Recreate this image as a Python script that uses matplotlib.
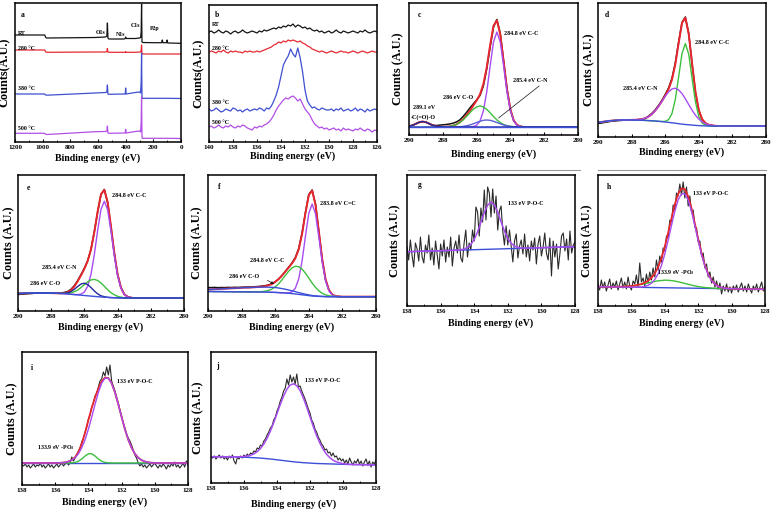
import numpy as np
import matplotlib
matplotlib.use("Agg")
import matplotlib.pyplot as plt
from matplotlib.lines import Line2D

plt.rcParams['font.family'] = ['Liberation Serif', 'DejaVu Serif']
plt.rcParams['font.weight'] = 'bold'
plt.rcParams['mathtext.fontset'] = 'custom'
plt.rcParams['mathtext.rm'] = 'Liberation Serif:bold'
plt.rcParams['mathtext.bf'] = 'Liberation Serif:bold'
plt.rcParams['mathtext.default'] = 'bf'

# ---------------- data (counts, arbitrary units) ----------------
# (a) survey spectra
survey_be = [1200, 985, 978, 970, 620, 545, 536, 532, 528, 522, 412, 403, 400, 397,
             330, 300, 292, 288, 285, 282, 276, 200, 140, 135, 131, 105, 100, 96, 0]
survey_rt = [107, 107, 104.5, 104, 104.5, 105, 106, 119, 104, 103, 103, 103.5, 105, 103.5,
             103.5, 104, 104.5, 110, 138, 100, 99.5, 99.3, 99.3, 102, 99.3, 99.3, 102, 99, 98.7]
survey_280 = [92, 92, 90, 89.7, 90, 90, 90.5, 93.5, 90, 89.7, 89.7, 89.7, 90.5, 89.7,
              89.7, 90, 90, 92, 97, 88.5, 88, 88, 88, 88, 88, 88, 88, 88, 88]
survey_380 = [48, 48, 47, 46.8, 49, 49.5, 50, 57, 48, 47.7, 48, 48, 54, 48,
              49.5, 50, 49, 60, 89, 44, 43.7, 43.7, 43.7, 43.7, 43.7, 43.7, 43.7, 43.7, 43.5]
survey_500 = [8.7, 8.7, 7.7, 7.5, 10.3, 10.5, 11, 16, 9, 8.7, 9, 9, 12.7, 9,
              10.5, 11, 10, 20, 45, 4, 3.7, 3.7, 3.7, 3.7, 3.7, 3.7, 3.7, 3.7, 3.5]
survey_labels = ['RT', '280 °C', '380 °C', '500 °C']

# (b) P2p at different temperatures, 140 -> 126 eV
p2p_rt = [110, 111, 109, 110, 112, 110, 109, 111, 110, 108,
          110, 111, 109, 110, 112, 110, 109, 110, 111, 110,
          109, 111, 110, 112, 111, 112, 113, 114, 113, 115,
          114, 116, 115, 117, 116, 118, 115, 117, 116, 114,
          115, 113, 114, 112, 111, 112, 110, 111, 109, 110,
          111, 109, 110, 112, 110, 109, 111, 110, 109, 110,
          111, 110, 109, 111, 110, 112, 110, 109, 110, 111, 110]
p2p_280 = [90, 91, 90, 89, 91, 90, 92, 90, 89, 91,
           90, 91, 90, 90, 89, 91, 90, 91, 90, 90,
           91, 90, 91, 92, 93, 94, 95, 97, 98, 100,
           99, 101, 100, 102, 101, 102, 101, 100, 101, 99,
           98, 96, 95, 93, 92, 91, 90, 91, 90, 89,
           90, 91, 90, 89, 90, 91, 90, 90, 89, 90,
           91, 90, 89, 90, 91, 90, 89, 90, 91, 90, 90]
p2p_380 = [33, 31, 32, 34, 32, 30, 31, 33, 32, 31,
           34, 33, 31, 32, 30, 32, 33, 31, 32, 33,
           32, 34, 33, 31, 34, 33, 36, 41, 47, 55,
           66, 77, 82, 86, 93, 88, 85, 94, 84, 70,
           52, 41, 37, 34, 35, 33, 32, 34, 33, 32,
           32, 33, 31, 33, 32, 34, 31, 32, 33, 31,
           32, 34, 31, 33, 32, 30, 33, 31, 32, 33, 32]
p2p_500 = [15, 16, 14, 15, 17, 15, 14, 16, 15, 17,
           15, 14, 16, 15, 17, 16, 14, 13, 12, 15,
           14, 16, 15, 17, 18, 20, 23, 27, 32, 36,
           39, 42, 44, 43, 45, 46, 44, 41, 43, 38,
           33, 30, 27, 22, 18, 16, 14, 15, 13, 14,
           12, 13, 14, 12, 13, 11, 14, 12, 13, 12,
           11, 13, 12, 14, 12, 11, 13, 12, 10, 12, 11]

# (c) C1s, 290 -> 282 eV every 0.2 eV, plus 280 eV
c_raw = [9.0, 9.8, 11.0, 12.5, 13.2, 12.9, 11.5, 10.0, 9.5, 9.8, 10.2, 10.5, 11.0, 11.8,
         13.0, 15.0, 18.5, 22.5, 27.0, 31.0, 35.0, 39.5, 49.0, 66.0, 88.0, 108.0, 115.5,
         101.5, 74.0, 46.0, 25.5, 14.0, 10.0, 8.6, 8.2, 8.0, 8.3, 7.9, 8.1, 8.0, 8.2, 8.0]
c_fit = [8.6, 9.6, 11.2, 12.8, 13.5, 12.8, 11.2, 9.6, 8.6, 8.2, 8.1, 8.3, 8.6, 9.3,
         10.6, 12.7, 15.7, 19.7, 24.2, 29.3, 34.4, 40.6, 50.9, 67.7, 89.8, 109.2, 114.6,
         100.6, 73.4, 45.5, 25.3, 14.5, 10.0, 8.4] + [8.0] * 8
c_cc = [8.0] * 19 + [8.4, 9.8, 13.9, 24.1, 43.0, 68.9, 93.0, 103.0, 93.0, 68.9, 43.0,
                     24.1, 13.9, 9.8, 8.4] + [8.0] * 8
c_co = [8.0] * 10 + [8.1, 8.3, 8.6, 9.3, 10.5, 12.4, 15.1, 18.5, 22.2, 25.7, 28.1, 29.0,
                     28.1, 25.7, 22.2, 18.5, 15.1, 12.4, 10.5, 9.3, 8.6, 8.3, 8.1] + [8.0] * 9
c_cn = [8.0] * 14 + [8.1, 8.3, 8.6, 9.2, 10.0, 11.2, 12.5, 13.7, 14.7, 15.0, 14.7, 13.7,
                     12.5, 11.2, 10.0, 9.2, 8.6, 8.3, 8.1] + [8.0] * 9
c_coo = [8.6, 9.6, 11.2, 12.8, 13.5, 12.8, 11.2, 9.6, 8.6, 8.2] + [8.0] * 32
c_bg = [7.7, 7.7]

# (d)
d_raw = [13.5, 14.0, 14.6, 15.2, 15.8, 16.0, 16.5, 16.6, 16.9, 16.8, 17.0, 16.8, 17.5, 17.5,
         18.4, 20.8, 23.5, 27.0, 31.5, 36.5, 42.5, 49.0, 58.5, 74.0, 95.0, 114.5, 120.0,
         103.5, 73.0, 44.5, 26.5, 17.5, 13.5, 12.0, 11.4, 11.0, 11.2, 10.9, 11.1, 11.0, 10.9, 11.0]
d_fit = [14.5, 15.0, 15.5, 16.0, 16.3, 16.6, 16.8, 17.0, 17.0, 17.0, 17.1, 17.2, 17.4, 17.8,
         18.8, 20.3, 22.7, 26.2, 30.6, 35.7, 41.3, 47.8, 57.1, 72.4, 93.9, 114.0, 119.2,
         103.0, 73.6, 45.4, 27.0, 17.8, 13.9, 12.2, 11.6, 11.2] + [11.0] * 6
d_cc = [14.5, 15.0, 15.5, 16.0, 16.3, 16.6, 16.8, 17.0, 17.0, 17.0, 17.0, 16.9, 16.8, 16.7,
        16.6, 16.4, 16.2, 16.0, 15.7, 15.5, 15.6, 17.3, 23.3, 37.4, 60.1, 83.5, 93.5,
        82.8, 58.7, 35.2, 20.5, 13.9, 11.7, 11.1] + [11.0] * 8
d_cn = [14.5, 15.0, 15.5, 16.0, 16.3, 16.6, 16.8, 17.0, 17.0, 17.0, 17.1, 17.2, 17.4, 17.8,
        18.8, 20.3, 22.7, 26.2, 30.6, 35.6, 40.7, 45.1, 48.0, 48.8, 47.1, 43.4, 38.2,
        32.4, 26.8, 21.8, 17.9, 15.1, 13.3, 12.1, 11.6, 11.2] + [11.0] * 6
d_bg = [14.5, 15.0, 15.5, 16.0, 16.3, 16.6, 16.8, 17.0, 17.0, 17.0, 17.0, 16.9, 16.8, 16.7,
        16.6, 16.4, 16.2, 16.0, 15.7, 15.4, 15.0, 14.6, 14.2, 13.8, 13.3, 12.9, 12.5,
        12.2, 11.9, 11.6, 11.4, 11.2, 11.1, 11.0] + [11.0] * 8

# (e)
e_raw = [15.5, 15.8, 16.0, 16.3, 16.5, 16.8, 17.0, 16.9, 17.1, 17.0, 17.1, 17.0, 16.9, 17.0,
         17.6, 18.5, 20.8, 24.5, 29.5, 35.5, 41.8, 49.5, 61.0, 78.5, 98.0, 115.5, 120.5,
         107.0, 82.5, 56.5, 35.5, 22.5, 15.8, 13.3, 12.4, 12.0, 12.1, 11.9, 12.0, 12.1, 12.0, 12.0]
e_fit = [16.5, 16.6, 16.7, 16.8, 16.9, 17.0, 17.0, 17.0, 17.0, 17.0, 16.9, 16.8, 16.7,
         16.7, 17.1, 17.9, 20.0, 23.7, 28.8, 34.8, 41.2, 49.1, 60.7, 78.1, 98.8, 115.8,
         120.2, 108.0, 83.8, 57.3, 35.8, 22.5, 15.8, 13.2, 12.3, 12.0] + [12.0] * 6
e_cc = [16.5, 16.6, 16.7, 16.8, 16.9, 17.0, 17.0, 17.0, 17.0, 17.0, 16.9, 16.8, 16.7,
        16.5, 16.3, 16.0, 15.7, 15.5, 15.4, 15.9, 18.0, 23.9, 36.0, 55.7, 79.8, 100.6,
        108.8, 100.2, 78.9, 54.4, 34.3, 21.8, 15.5, 13.1, 12.3, 12.1] + [12.0] * 6
e_cn = [16.5, 16.6, 16.7, 16.8, 16.9, 17.0, 17.0, 17.0, 17.0, 17.0, 16.9, 16.8, 16.7,
        16.6, 16.6, 16.7, 17.2, 18.3, 20.0, 22.5, 25.4, 28.2, 30.1, 30.6, 29.5, 27.0,
        23.7, 20.3, 17.3, 15.2, 13.7, 12.8, 12.3, 12.1] + [12.0] * 8
e_co = [16.5, 16.6, 16.7, 16.8, 16.9, 17.0, 17.0, 17.0, 17.0, 17.0, 16.9, 16.8, 16.7,
        16.6, 16.8, 17.2, 18.5, 20.8, 23.6, 26.0, 26.8, 25.4, 22.4, 19.0, 16.1, 14.2,
        13.3, 12.7, 12.4, 12.3, 12.2, 12.1] + [12.0] * 10
e_bg = [16.5, 16.6, 16.7, 16.8, 16.9, 17.0, 17.0, 17.0, 17.0, 17.0, 16.9, 16.8, 16.7,
        16.5, 16.3, 16.0, 15.7, 15.4, 15.1, 14.8, 14.5, 14.2, 13.9, 13.6, 13.3, 13.0,
        12.8, 12.6, 12.4, 12.3, 12.2, 12.1] + [12.0] * 10

# (f)
f_raw = [19.5, 19.4, 19.6, 19.3, 19.5, 19.4, 19.6, 19.5, 19.7, 19.6, 19.8, 19.9, 20.0, 20.1,
         20.3, 20.5, 20.9, 21.3, 22.0, 23.3, 25.3, 28.0, 31.5, 35.5, 39.8, 44.0, 49.5,
         58.5, 74.0, 94.5, 112.5, 117.0, 102.5, 75.0, 47.0, 27.0, 16.8, 12.2, 10.8, 10.4, 10.3, 10.3]
f_fit = [17.5, 17.7, 17.8, 18.0, 18.2, 18.3, 18.5, 18.7, 18.8, 19.0, 19.2, 19.4, 19.4, 19.6,
         19.8, 20.0, 20.3, 20.8, 21.6, 22.9, 25.0, 27.8, 31.3, 35.4, 39.4, 43.6, 48.8,
         57.6, 73.2, 93.8, 111.9, 116.4, 102.2, 75.3, 47.7, 27.7, 17.0, 12.4, 10.9, 10.5, 10.3, 10.3]
f_cc2 = [15.5, 15.5, 15.4, 15.4, 15.4, 15.3, 15.3, 15.3, 15.2, 15.2, 15.2, 15.2, 15.1, 15.1,
         15.1, 15.0, 15.0, 14.9, 14.8, 14.7, 14.6, 14.4, 14.2, 14.1, 14.1, 15.1, 18.8,
         28.1, 46.1, 70.8, 93.7, 103.0, 93.1, 69.6, 44.4, 25.9, 16.1, 12.0, 10.7, 10.4, 10.3, 10.3]
f_cc = [15.5, 15.5, 15.4, 15.4, 15.4, 15.3, 15.3, 15.3, 15.2, 15.2, 15.2, 15.2, 15.1, 15.1,
        15.2, 15.2, 15.4, 15.8, 16.6, 17.9, 20.1, 23.2, 27.1, 31.5, 35.7, 39.1, 40.7,
        40.3, 37.9, 33.8, 28.9, 23.9, 19.6, 16.1, 13.7, 12.2, 11.2, 10.7, 10.5, 10.4, 10.3, 10.3]
f_co = [17.5, 17.7, 17.8, 18.0, 18.2, 18.3, 18.5, 18.7, 18.8, 19.0, 19.2, 19.4, 19.4, 19.6,
        19.7, 19.8, 19.9, 19.9, 19.8, 19.7, 19.5, 19.0, 18.4, 17.8, 17.0, 16.2, 15.3,
        14.4, 13.6, 12.8, 12.1, 11.5, 11.1, 10.8, 10.6, 10.4, 10.3, 10.3, 10.3, 10.3, 10.3, 10.3]
f_bg = [15.5, 15.5, 15.4, 15.4, 15.4, 15.3, 15.3, 15.3, 15.2, 15.2, 15.2, 15.2, 15.1, 15.1,
        15.1, 15.0, 15.0, 14.9, 14.8, 14.7, 14.6, 14.4, 14.2, 14.0, 13.7, 13.4, 13.0,
        12.6, 12.2, 11.8, 11.4, 11.0, 10.8, 10.6, 10.5, 10.4, 10.3, 10.3, 10.3, 10.3, 10.3, 10.3]

# (g)-(j) P2p, raw every 0.1 eV, fits every 0.2 eV, 138 -> 128 eV
g_raw = [65, 52, 72, 57, 45, 69, 63, 51, 75, 55,
         49, 67, 59, 77, 52, 64, 47, 71, 57, 43,
         68, 56, 72, 50, 65, 55, 75, 46, 64, 71,
         59, 77, 54, 50, 69, 82, 55, 69, 62, 82,
         71, 105, 100, 76, 104, 90, 122, 92, 125, 119,
         95, 123, 99, 116, 82, 101, 106, 81, 67, 86,
         67, 82, 66, 50, 71, 78, 54, 66, 72, 58,
         78, 55, 67, 51, 71, 62, 74, 48, 68, 76,
         56, 65, 79, 59, 52, 74, 36, 71, 55, 68,
         43, 58, 76, 79, 61, 73, 52, 81, 59, 67, 70]
g_poc = [60.3, 60.4, 60.5, 60.6, 60.7, 60.8, 60.9, 61.0, 61.1, 61.2, 61.3, 61.4, 61.5,
         61.6, 61.7, 61.9, 62.2, 63.0, 64.5, 67.5, 72.5, 80.1, 89.7, 99.5, 106.9, 109.8,
         107.1, 99.9, 90.3, 80.9, 73.5, 68.7, 65.9, 64.6, 64.0, 63.9, 63.9, 64.0, 64.1,
         64.2, 64.3, 64.4, 64.5, 64.6, 64.7, 64.8, 64.9, 65.0, 65.1, 65.2, 65.3]
g_bg = [60.3, 65.3]

h_raw = [24, 18, 28, 20, 26, 17, 23, 29, 19, 25,
         21, 27, 18, 24, 30, 20, 26, 19, 31, 22,
         18, 27, 24, 33, 21, 45, 26, 30, 22, 34,
         25, 36, 28, 40, 31, 48, 38, 52, 46, 60,
         57, 72, 70, 88, 86, 103, 98, 115, 112, 124,
         113, 126, 110, 121, 102, 112, 96, 98, 81, 80,
         66, 67, 52, 55, 40, 44, 31, 36, 25, 31,
         21, 27, 19, 25, 14, 22, 17, 24, 16, 21,
         15, 22, 18, 23, 16, 21, 25, 17, 22, 16,
         24, 19, 15, 22, 18, 24, 16, 21, 26, 17, 22]
h_fit = [21.3, 21.3, 21.2, 21.1, 21.1, 21.1, 21.2, 21.3, 21.5, 21.7, 22.0, 22.5, 23.2,
         24.0, 25.3, 27.3, 30.2, 34.5, 41.0, 49.8, 61.5, 75.2, 89.8, 103.6, 114.2, 119.6,
         118.8, 111.6, 99.6, 84.5, 68.9, 54.6, 42.8, 34.0, 27.9, 24.0, 21.7, 20.4, 19.7,
         19.5, 19.3, 19.2, 19.1, 19.1, 19.0, 19.0, 18.9, 18.9, 18.8, 18.8, 18.7]
h_poc = [21.3, 21.3, 21.2, 21.1, 21.1, 21.0, 21.0, 20.9, 20.9, 20.8, 20.8, 20.8, 20.9,
         21.0, 21.6, 22.7, 24.8, 28.4, 34.2, 42.6, 54.0, 67.7, 82.6, 96.8, 108.1, 114.2,
         114.2, 107.9, 96.6, 82.2, 67.2, 53.4, 41.9, 33.4, 27.5, 23.8, 21.6, 20.4, 19.7,
         19.5, 19.3, 19.2, 19.1, 19.1, 19.0, 19.0, 18.9, 18.9, 18.8, 18.8, 18.7]
h_po3 = [21.3, 21.3, 21.2, 21.1, 21.1, 21.1, 21.2, 21.3, 21.5, 21.7, 22.0, 22.4, 23.0,
         23.6, 24.3, 25.1, 25.9, 26.5, 27.2, 27.5, 27.8, 27.7, 27.4, 26.9, 26.2, 25.4,
         24.6, 23.7, 22.9, 22.1, 21.4, 20.9, 20.5, 20.2, 19.9, 19.7, 19.5, 19.4, 19.3,
         19.3, 19.2, 19.2, 19.1, 19.1, 19.0, 19.0, 18.9, 18.9, 18.8, 18.8, 18.7]
h_bg = [21.3, 18.7]

i_raw = [20, 19, 21, 18, 20, 17, 19, 21, 18, 20,
         19, 22, 18, 20, 17, 19, 21, 18, 20, 17,
         19, 21, 18, 20, 22, 19, 21, 23, 20, 22,
         28, 24, 27, 30, 34, 37, 43, 47, 53, 58,
         66, 70, 78, 82, 89, 92, 98, 104, 106, 113,
         109, 118, 110, 120, 104, 99, 94, 88, 82, 75,
         69, 62, 57, 51, 47, 44, 40, 35, 30, 27,
         22, 19, 21, 18, 20, 17, 19, 21, 18, 20,
         22, 19, 17, 20, 18, 21, 19, 16, 20, 18,
         21, 19, 23, 18, 20, 17, 19, 22, 18, 24, 20]
i_fit = [22.0] * 11 + [22.1, 22.3, 22.7, 23.5, 25.1, 27.9, 33.1, 41.2, 52.3, 65.0, 77.1,
                       87.7, 96.5, 103.6, 107.4, 107.0, 101.8, 92.5, 80.7, 67.9, 55.8,
                       45.3, 37.2, 31.3, 27.3, 24.9, 23.5, 22.7, 22.3, 22.1] + [22.0] * 10
i_poc = [22.0] * 11 + [22.1, 22.3, 22.7, 23.5, 24.9, 27.3, 31.3, 37.2, 45.3, 55.8, 67.9,
                       80.7, 92.5, 101.8, 106.8, 106.8, 101.8, 92.5, 80.7, 67.9, 55.8,
                       45.3, 37.2, 31.3, 27.3, 24.9, 23.5, 22.7, 22.3, 22.1] + [22.0] * 10
i_po3 = [22.0] * 15 + [22.2, 22.6, 23.8, 26.0, 29.0, 31.2, 31.2, 29.0, 26.0, 23.8,
                       22.6, 22.2] + [22.0] * 24
i_bg = [22.0, 22.0]

j_raw = [26, 25, 27, 24, 26, 28, 25, 27, 24, 26,
         23, 27, 25, 28, 22, 19, 26, 24, 27, 25,
         28, 26, 29, 27, 30, 29, 32, 31, 35, 34,
         38, 37, 42, 44, 48, 51, 55, 57, 63, 66,
         72, 76, 82, 86, 92, 95, 104, 98, 108, 101,
         106, 99, 109, 96, 97, 92, 88, 84, 79, 74,
         70, 63, 60, 54, 51, 46, 43, 39, 37, 33,
         34, 30, 31, 27, 30, 26, 27, 23, 25, 22,
         24, 20, 23, 19, 25, 21, 18, 22, 20, 24,
         19, 22, 17, 21, 24, 18, 22, 16, 21, 19, 23]
j_poc = [26.3, 26.3, 26.3, 26.3, 26.3, 26.2, 26.2, 26.2, 26.2, 26.3, 26.5, 27.0, 27.8,
         29.1, 31.3, 34.5, 38.9, 44.7, 51.9, 60.3, 69.4, 78.6, 87.0, 93.8, 98.0, 99.2,
         97.3, 92.4, 84.9, 75.9, 66.1, 56.4, 47.4, 39.8, 33.6, 28.8, 25.3, 22.8, 21.2,
         20.1, 19.4, 19.0, 18.7, 18.6, 18.4, 18.4, 18.3, 18.3, 18.2, 18.2, 18.1]
j_bg = [26.3, 26.3, 26.3, 26.3, 26.3, 26.2, 26.2, 26.1, 26.0, 25.9, 25.8, 25.7, 25.5,
        25.3, 25.1, 24.9, 24.6, 24.3, 24.0, 23.6, 23.2, 22.8, 22.4, 22.0, 21.6, 21.2,
        20.9, 20.6, 20.3, 20.1, 19.9, 19.7, 19.5, 19.4, 19.3, 19.2, 19.1, 19.0, 18.9,
        18.8, 18.7, 18.6, 18.5, 18.5, 18.4, 18.4, 18.3, 18.3, 18.2, 18.2, 18.1]

# energy axes
be_b = np.linspace(140, 126, 71)
be_c1s = np.append(np.linspace(290, 282, 41), 280)
be_fit = np.linspace(138, 128, 51)
be_raw = np.linspace(138, 128, 101)
be_ends = [138, 128]

# ---------------- figure ----------------
W, H = 774, 511
K = '#141414'
RED = '#e8262d'
PUR = '#a84cf0'
BLU = '#3c4fd8'
GRN = '#3dbf3d'
NAV = '#26299c'

fig = plt.figure(figsize=(W / 100, H / 100), dpi=100)


def make_ax(box, xlim, xticks, minor, letter, letter_pos, ylab, ylab_x, xlab_y, y0=0):
    left, top, right, bottom = box
    ax = fig.add_axes([left / W, 1 - bottom / H, (right - left) / W, (bottom - top) / H])
    ax.set_xlim(*xlim)
    ax.set_ylim(y0, y0 + bottom - top)
    ax.set_xticks(xticks)
    ax.set_xticks(minor, minor=True)
    ax.set_yticks([])
    ax.tick_params(axis='x', direction='in', length=2, width=0.8, pad=2.5, labelsize=5)
    ax.tick_params(axis='x', which='minor', direction='in', length=1.2, width=0.6)
    for s in ax.spines.values():
        s.set_linewidth(1.1)
    ax.text(letter_pos[0], letter_pos[1], letter, transform=ax.transAxes,
            fontsize=5.5, fontweight='bold', ha='center', va='center')
    fig.text((left + right) / 2 / W, 1 - xlab_y / H, 'Binding energy (eV)',
             ha='center', va='center', fontsize=7.1, fontweight='bold')
    fig.text(ylab_x / W, 1 - (top + bottom) / 2 / H, ylab, rotation=90,
             ha='center', va='center', fontsize=8.8, fontweight='bold')
    return ax


def note(ax, x, y, s, size=4.3):
    ax.text(x, y, s, fontsize=size, fontweight='bold', ha='left', va='center')


c1s_ticks = [290, 288, 286, 284, 282, 280]
c1s_minor = [289, 287, 285, 283, 281]
p2p_ticks = [138, 136, 134, 132, 130, 128]
p2p_minor = [137, 135, 133, 131, 129]

# (a)
ax = make_ax((15, 3, 181, 142), (1200, 0), [1200, 1000, 800, 600, 400, 200, 0],
             [1100, 900, 700, 500, 300, 100],
             'a', (0.045, 0.914), 'Counts(A.U.)', 5, 158)
for ys, col in zip([survey_rt, survey_280, survey_380, survey_500],
                   [K, '#e52a34', '#3f4fd0', '#b24fe6']):
    ax.plot(survey_be, ys, color=col, lw=0.9)
for lab, y in zip(survey_labels, [109, 94, 53, 14]):
    note(ax, 1180, y, lab, 4.2)
note(ax, 614, 110, 'O1s', 4.2)
note(ax, 472, 108, 'N1s', 4.2)
note(ax, 361, 117, 'C1s', 4.2)
note(ax, 224, 114, 'P2p', 4.2)

# (b)
ax = make_ax((209, 5, 377, 142), (140, 126), list(range(140, 125, -2)),
             list(range(139, 126, -2)),
             'b', (0.05, 0.927), 'Counts(A.U.)', 199, 156)
for ys, col in zip([p2p_rt, p2p_280, p2p_380, p2p_500],
                   [K, '#e52a34', '#3f4fd0', '#b24fe6']):
    ax.plot(be_b, ys, color=col, lw=0.9)
for lab, y in zip(survey_labels, [117, 94, 39, 20]):
    note(ax, 139.75, y, lab, 4.2)

# (c)
ax = make_ax((409, 3, 578, 135), (290, 280), c1s_ticks, c1s_minor,
             'c', (0.06, 0.909), 'Counts (A.U.)', 398, 154)
ax.plot(be_c1s, c_raw, color=K, lw=1.1)
ax.plot(be_c1s, c_fit, color=RED, lw=1.4)
ax.plot(be_c1s, c_cc, color=PUR, lw=1.0)
ax.plot(be_c1s, c_co, color=GRN, lw=1.0)
ax.plot(be_c1s, c_cn, color='#5a5fd8', lw=1.0)
ax.plot(be_c1s, c_coo, color=NAV, lw=1.0)
ax.plot([290, 280], c_bg, color=BLU, lw=1.0)
note(ax, 284.4, 102, '284.8 eV C-C')
note(ax, 288.0, 38, '286 eV C-O')
note(ax, 283.85, 55, '285.4 eV C-N')
note(ax, 289.75, 28, '289.1 eV')
note(ax, 289.9, 18, '-C(=O)-O')
ax.plot([282.3, 284.7], [49, 17], color=K, lw=0.5)

# (d)
ax = make_ax((598, 3, 766, 137), (290, 280), c1s_ticks, c1s_minor,
             'd', (0.052, 0.91), 'Counts (A.U.)', 589, 152)
ax.plot(be_c1s, d_raw, color=K, lw=1.1)
ax.plot(be_c1s, d_fit, color=RED, lw=1.4)
ax.plot(be_c1s, d_cc, color=GRN, lw=1.0)
ax.plot(be_c1s, d_cn, color=PUR, lw=1.0)
ax.plot(be_c1s, d_bg, color=BLU, lw=1.0)
note(ax, 284.23, 94, '284.8 eV C-C')
note(ax, 288.5, 48, '285.4 eV C-N')

# (e)
ax = make_ax((18, 175, 184, 311), (290, 280), c1s_ticks, c1s_minor,
             'e', (0.062, 0.901), 'Counts (A.U.)', 9, 327, y0=-1)
ax.plot(be_c1s, e_raw, color=K, lw=1.1)
ax.plot(be_c1s, e_fit, color=RED, lw=1.4)
ax.plot(be_c1s, e_cc, color=PUR, lw=1.0)
ax.plot(be_c1s, e_cn, color=GRN, lw=1.0)
ax.plot(be_c1s, e_co, color=NAV, lw=1.0)
ax.plot(be_c1s, e_bg, color=BLU, lw=1.0)
note(ax, 284.36, 115, '284.8 eV C-C')
note(ax, 288.57, 43, '285.4 eV C-N')
note(ax, 289.28, 27, '286 eV C-O')

# (f)
ax = make_ax((208, 175, 376, 311), (290, 280), c1s_ticks, c1s_minor,
             'f', (0.067, 0.911), 'Counts (A.U.)', 197, 327, y0=-4)
ax.plot(be_c1s, f_raw, color=K, lw=1.1)
ax.plot(be_c1s, f_fit, color=RED, lw=1.4)
ax.plot(be_c1s, f_cc2, color=PUR, lw=1.0)
ax.plot(be_c1s, f_cc, color=GRN, lw=1.0)
ax.plot(be_c1s, f_co, color=BLU, lw=1.0)
ax.plot(be_c1s, f_bg, color=BLU, lw=1.0)
note(ax, 283.35, 104, '283.8 eV C=C')
note(ax, 287.5, 47, '284.8 eV C-C')
note(ax, 288.73, 31, '286 eV C-O')
ax.annotate('', xy=(285.93, 21.5), xytext=(286.6, 28),
            arrowprops=dict(arrowstyle='-|>', color=K, lw=0.5, mutation_scale=4))

# (g)
ax = make_ax((407, 175, 575, 306), (138, 128), p2p_ticks, p2p_minor,
             'g', (0.073, 0.927), 'Counts (A.U.)', 395, 323, y0=6)
ax.plot(be_raw, g_raw, color='#2a2a2a', lw=0.8)
ax.plot(be_ends, g_bg, color=BLU, lw=1.0)
ax.plot(be_fit, g_poc, color=PUR, lw=1.1)
note(ax, 131.97, 109, '133 eV P-O-C')

# (h)
ax = make_ax((598, 175, 765, 306), (138, 128), p2p_ticks, p2p_minor,
             'h', (0.068, 0.912), 'Counts (A.U.)', 587, 323, y0=2)
ax.plot(be_raw, h_raw, color='#2a2a2a', lw=0.8)
ax.plot(be_ends, h_bg, color=BLU, lw=1.0)
ax.plot(be_fit, h_po3, color=GRN, lw=1.0)
ax.plot(be_fit, h_fit, color=RED, lw=1.3)
ax.plot(be_fit, h_poc, color=PUR, lw=1.0)
note(ax, 132.3, 115, '133 eV P-O-C')
note(ax, 134.45, 35, '133.9 eV -PO$_3$')

# (i)
ax = make_ax((22, 352, 188, 485), (138, 128), p2p_ticks, p2p_minor,
             'i', (0.058, 0.877), 'Counts (A.U.)', 12, 502)
ax.plot(be_raw, i_raw, color='#2a2a2a', lw=0.8)
ax.plot(be_ends, i_bg, color=BLU, lw=1.0)
ax.plot(be_fit, i_po3, color=GRN, lw=1.0)
ax.plot(be_fit, i_fit, color=RED, lw=1.3)
ax.plot(be_fit, i_poc, color=PUR, lw=1.0)
note(ax, 132.3, 104, '133 eV P-O-C')
note(ax, 137.1, 37, '133.9 eV -PO$_3$')

# (j)
ax = make_ax((211, 352, 376, 483), (138, 128), p2p_ticks, p2p_minor,
             'j', (0.038, 0.893), 'Counts (A.U.)', 198, 504)
ax.plot(be_raw, j_raw, color='#2a2a2a', lw=0.8)
ax.plot(be_fit, j_bg, color=BLU, lw=1.0)
ax.plot(be_fit, j_poc, color=PUR, lw=1.1)
note(ax, 132.3, 103, '133 eV P-O-C')

# thin grey rules under the top-right panels
for x0, x1 in [(408, 580), (598, 766)]:
    fig.add_artist(Line2D([x0 / W, x1 / W], [1 - 170 / H] * 2, color='#9a9a9a', lw=0.8))

fig.savefig('out.png', dpi=100)
